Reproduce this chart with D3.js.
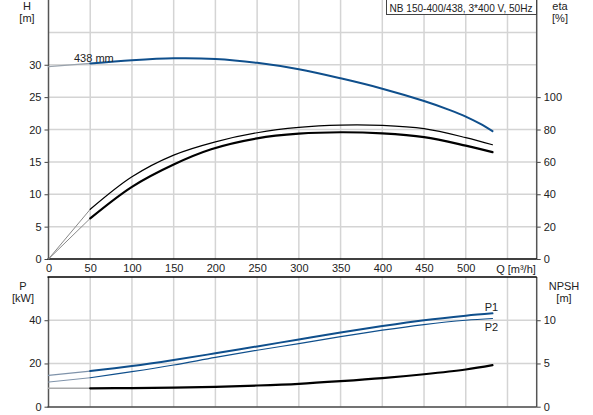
<!DOCTYPE html>
<html><head><meta charset="utf-8">
<script src="https://cdn.jsdelivr.net/npm/d3@7"></script>
<style>body{margin:0;background:#fff}svg{display:block;font-family:"Liberation Sans",Arial,sans-serif}</style>
</head><body><svg id="c" width="593" height="415"></svg>
<script>
const title = "NB 150-400/438, 3*400 V, 50Hz";
const xTicks = [0,50,100,150,200,250,300,350,400,450,500];
const hTicks = [0,5,10,15,20,25,30];
const etaTicks = [0,20,40,60,80,100];
const pTicks = [0,20,40];
const npshTicks = [0,5,10];

const qH = [0,50,100,150,200,250,300,350,400,450,481,500,517,532];
const headH = [29.7,30.2,30.7,31.0,30.9,30.3,29.3,27.9,26.3,24.4,23.0,22.0,20.9,19.75];
const qEta = [0,50,100,150,200,250,300,350,400,450,500,532];
const etaUpper = [0,30.7,50.8,64.2,72.4,78.0,81.3,82.7,82.5,80.5,75.0,70.6];
const qEtaL = [0,50,100,150,195,250,300,350,400,450,500,532];
const etaLower = [0,25.1,44.6,58.4,67.8,74.5,77.4,78.3,77.6,75.3,70.0,66.0];
const qP = [0,50,100,150,200,250,300,350,400,450,500,532];
const p1 = [14.5,16.5,18.8,21.6,24.7,27.9,31.1,34.3,37.3,40.0,42.1,43.2];
const p2 = [11.4,13.4,16.2,19.3,22.8,26.1,29.2,32.4,35.4,38.0,40.0,40.8];
const npsh = [2.13,2.13,2.15,2.2,2.3,2.45,2.65,2.95,3.3,3.75,4.3,4.8];

const svg = d3.select("#c");
const BLUE = "#0f4f8c", GRID = "#d4d4d4", TXT = "#222";
const L = 48.5, R = 536.7;
const x = d3.scaleLinear().domain([0,585]).range([L,R]);
const yH = d3.scaleLinear().domain([0,40]).range([259,0]);
const yEta = d3.scaleLinear().domain([0,160]).range([259,0]);
const yP = d3.scaleLinear().domain([0,60]).range([406.7,277]);
const yN = d3.scaleLinear().domain([0,15]).range([406.7,277]);

// grids
const g = svg.append("g");
[50,100,150,200,250,300,350,400,450,500,550].forEach(v=>{
  g.append("line").attr("x1",x(v)).attr("x2",x(v)).attr("y1",0).attr("y2",259).attr("stroke",GRID).attr("stroke-width",1.5);
  g.append("line").attr("x1",x(v)).attr("x2",x(v)).attr("y1",277).attr("y2",406.7).attr("stroke",GRID).attr("stroke-width",1.5);
});
[5,10,15,20,25,30,35].forEach(v=>g.append("line").attr("x1",L).attr("x2",R).attr("y1",yH(v)).attr("y2",yH(v)).attr("stroke",GRID).attr("stroke-width",1.5));
[20,40].forEach(v=>g.append("line").attr("x1",L).attr("x2",R).attr("y1",yP(v)).attr("y2",yP(v)).attr("stroke",GRID).attr("stroke-width",1.5));

// axes
function axis(gen, tx, ty){ const a = svg.append("g").attr("transform",`translate(${tx},${ty})`).call(gen);
  a.select(".domain").remove(); a.selectAll("text").attr("font-size",11).attr("fill",TXT).attr("font-family","Liberation Sans, Arial, sans-serif");
  a.selectAll("line").attr("stroke","#444"); return a; }
axis(d3.axisLeft(yH).tickValues(hTicks).tickSize(4).tickPadding(3), L, 0);
axis(d3.axisRight(yEta).tickValues(etaTicks).tickSize(4).tickPadding(3), R, 0);
axis(d3.axisLeft(yP).tickValues(pTicks).tickSize(4).tickPadding(3), L, 0);
axis(d3.axisRight(yN).tickValues(npshTicks).tickSize(4).tickPadding(3), R, 0);
axis(d3.axisBottom(x).tickValues(xTicks).tickSize(0).tickPadding(5), 0, 259);
svg.append("line").attr("x1",L).attr("x2",L).attr("y1",0).attr("y2",259).attr("stroke","#555").attr("stroke-width",1.5);
svg.append("line").attr("x1",R).attr("x2",R).attr("y1",0).attr("y2",259).attr("stroke","#555").attr("stroke-width",1.5);
svg.append("line").attr("x1",L).attr("x2",L).attr("y1",277).attr("y2",407).attr("stroke","#555").attr("stroke-width",1.5);
svg.append("line").attr("x1",R).attr("x2",R).attr("y1",277).attr("y2",407).attr("stroke","#555").attr("stroke-width",1.5);
svg.append("line").attr("x1",L-1).attr("x2",R).attr("y1",259).attr("y2",259).attr("stroke","#000").attr("stroke-width",1.5);
svg.append("line").attr("x1",L-1).attr("x2",R).attr("y1",277).attr("y2",277).attr("stroke","#000").attr("stroke-width",1.5);
svg.append("line").attr("x1",L-1).attr("x2",R).attr("y1",407).attr("y2",407).attr("stroke","#444").attr("stroke-width",1.5);

function txt(s,tx,ty,anchor){ return svg.append("text").attr("x",tx).attr("y",ty).attr("font-size",11).attr("fill",TXT).attr("text-anchor",anchor||"middle").text(s); }
txt("Q [m³/h]",516,273);
txt("H",27,10); txt("[m]",27,22);
txt("eta",560,10); txt("[%]",560,22);
txt("P",23,290); txt("[kW]",23,302);
txt("NPSH",564,290); txt("[m]",564,302);

// legend box
svg.append("rect").attr("x",386.5).attr("y",-1).attr("width",150).attr("height",15.5).attr("fill","#fff").attr("stroke","#444");
txt(title,389.5,11.5,"start").attr("textLength",143).attr("lengthAdjust","spacingAndGlyphs");

function curve(qs, vs, ys, from, to, color, w){
  const pts = qs.map((q,i)=>[q,vs[i]]).filter(p=>p[0]>=from && p[0]<=to);
  const line = d3.line().x(d=>x(d[0])).y(d=>ys(d[1])).curve(d3.curveCatmullRom.alpha(0.5));
  svg.append("path").attr("d",line(pts)).attr("fill","none").attr("stroke",color).attr("stroke-width",w).attr("stroke-linecap","round");
}
// head
curve(qH, headH, yH, 0, 50, "#9aa3ad", 1.2);
curve(qH, headH, yH, 50, 600, BLUE, 2);
txt("438 mm",74,62,"start");
// efficiency
curve(qEta, etaUpper, yEta, 0, 50, "#888", 1);
curve(qEta, etaUpper, yEta, 50, 600, "#000", 1.2);
curve(qEtaL, etaLower, yEta, 0, 50, "#888", 1);
curve(qEtaL, etaLower, yEta, 50, 600, "#000", 2.2);
// power
curve(qP, p1, yP, 0, 50, "#7f93aa", 1.2);
curve(qP, p1, yP, 50, 600, BLUE, 2);
curve(qP, p2, yP, 0, 50, "#7f93aa", 1);
curve(qP, p2, yP, 50, 600, BLUE, 1.2);
curve(qP, npsh, yN, 0, 50, "#aaa", 1.5);
curve(qP, npsh, yN, 50, 600, "#000", 2.2);
txt("P1",491.5,311);
txt("P2",491.5,331);
</script></body></html>
